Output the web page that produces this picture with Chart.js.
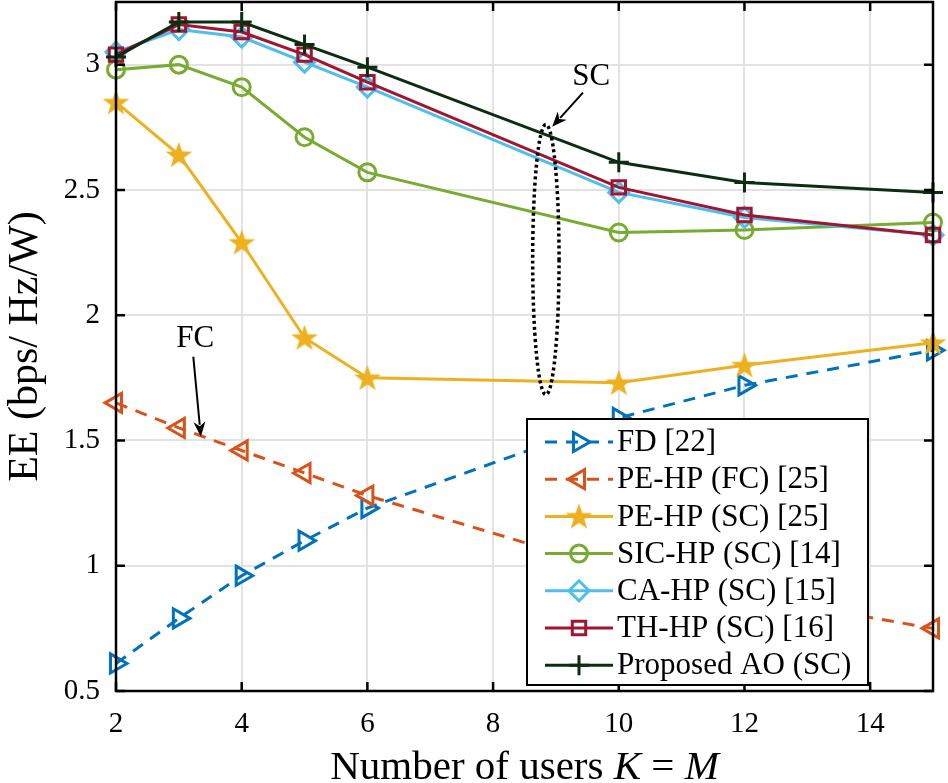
<!DOCTYPE html>
<html>
<head>
<meta charset="utf-8">
<script src="https://cdn.jsdelivr.net/npm/chart.js@4.4.1/dist/chart.umd.min.js"></script>
<style>
body { margin: 0; background: #fff; }
#wrap { width: 948px; height: 783px; }
</style>
</head>
<body>
<div id="wrap"><canvas id="eeChart" width="948" height="783"></canvas></div>
<script>
// number of users K = M
var users = [2, 3, 4, 5, 6, 10, 12, 15];

// EE values (bps/Hz/W)
var fdEE       = [0.61, 0.79, 0.96, 1.10, 1.23, 1.59, 1.72, 1.86];
var peFcEE     = [1.65, 1.55, 1.46, 1.37, 1.28, 0.98, 0.88, 0.75];
var peScEE     = [2.85, 2.64, 2.29, 1.91, 1.75, 1.73, 1.80, 1.89];
var sicEE      = [2.98, 3.00, 2.91, 2.71, 2.57, 2.33, 2.34, 2.37];
var caEE       = [3.05, 3.14, 3.11, 3.01, 2.91, 2.49, 2.39, 2.32];
var thEE       = [3.04, 3.16, 3.13, 3.04, 2.93, 2.51, 2.40, 2.32];
var proposedEE = [3.03, 3.17, 3.17, 3.08, 2.99, 2.61, 2.53, 2.49];

var seriesNames = ['FD [22]', 'PE-HP (FC) [25]', 'PE-HP (SC) [25]', 'SIC-HP (SC) [14]',
    'CA-HP (SC) [15]', 'TH-HP (SC) [16]', 'Proposed AO (SC)'];

var xTicks = [2, 4, 6, 8, 10, 12, 14];
var yTicks = [0.5, 1, 1.5, 2, 2.5, 3];

var serif = '"Liberation Serif", "Times New Roman", serif';

function pts(vals) {
    return users.map(function (u, i) { return { x: u, y: vals[i] }; });
}

// filled pentagram, chart.js has no such marker
function makeStar(color, r) {
    var c = document.createElement('canvas');
    var s = Math.ceil(r * 2 + 4);
    c.width = s; c.height = s;
    var g = c.getContext('2d');
    g.fillStyle = color;
    g.beginPath();
    for (var k = 0; k < 10; k++) {
        var rr = k % 2 ? r * 0.4 : r;
        var a = -Math.PI / 2 + k * Math.PI / 5;
        g.lineTo(s / 2 + rr * Math.cos(a), s / 2 + 1 + rr * Math.sin(a));
    }
    g.closePath();
    g.fill();
    return c;
}

function series(i, vals, color, style, radius, rot, dashed) {
    return {
        label: seriesNames[i],
        data: pts(vals),
        borderColor: color,
        backgroundColor: color,
        borderWidth: 3,
        borderDash: dashed ? [12, 9] : [],
        pointStyle: style,
        pointRotation: rot,
        pointRadius: radius,
        pointBorderWidth: 3,
        pointBorderColor: color,
        pointBackgroundColor: 'rgba(0,0,0,0)',
        tension: 0,
        clip: false,
        order: 6 - i
    };
}

var datasets = [
    series(0, fdEE, '#0072BD', 'triangle', 11, 90, true),
    series(1, peFcEE, '#D95319', 'triangle', 11, -90, true),
    series(2, peScEE, '#EDB120', makeStar('#EDB120', 14), 14, 0, false),
    series(3, sicEE, '#77AC30', 'circle', 8.5, 0, false),
    series(4, caEE, '#4DBEEE', 'rectRot', 10, 0, false),
    series(5, thEE, '#A2142F', 'rect', 9.5, 0, false),
    series(6, proposedEE, '#0b2e10', 'cross', 10, 0, false)
];

function drawArrow(ctx, x1, y1, x2, y2) {
    var ang = Math.atan2(y2 - y1, x2 - x1), hl = 15, hw = 6;
    ctx.beginPath();
    ctx.moveTo(x1, y1);
    ctx.lineTo(x2 - Math.cos(ang) * hl * 0.8, y2 - Math.sin(ang) * hl * 0.8);
    ctx.stroke();
    ctx.beginPath();
    ctx.moveTo(x2, y2);
    ctx.lineTo(x2 - Math.cos(ang) * hl + Math.sin(ang) * hw, y2 - Math.sin(ang) * hl - Math.cos(ang) * hw);
    ctx.lineTo(x2 - Math.cos(ang) * hl * 0.7, y2 - Math.sin(ang) * hl * 0.7);
    ctx.lineTo(x2 - Math.cos(ang) * hl - Math.sin(ang) * hw, y2 - Math.sin(ang) * hl + Math.cos(ang) * hw);
    ctx.closePath();
    ctx.fill();
}

var decor = {
    id: 'decor',
    afterDraw: function (chart) {
        var ctx = chart.ctx, a = chart.chartArea;
        var xs = chart.scales.x, ys = chart.scales.y;
        var tl = 9;
        ctx.save();

        // axes box + inward ticks
        ctx.strokeStyle = '#000';
        ctx.lineWidth = 2.5;
        ctx.strokeRect(a.left, a.top, a.right - a.left, a.bottom - a.top);
        ctx.beginPath();
        xTicks.forEach(function (v) {
            var p = xs.getPixelForValue(v);
            ctx.moveTo(p, a.bottom); ctx.lineTo(p, a.bottom - tl);
            ctx.moveTo(p, a.top); ctx.lineTo(p, a.top + tl);
        });
        yTicks.forEach(function (v) {
            var p = ys.getPixelForValue(v);
            ctx.moveTo(a.left, p); ctx.lineTo(a.left + tl, p);
            ctx.moveTo(a.right, p); ctx.lineTo(a.right - tl, p);
        });
        ctx.stroke();

        // SC ellipse and arrows
        ctx.fillStyle = '#000';
        ctx.strokeStyle = '#000';
        ctx.lineWidth = 3.5;
        ctx.setLineDash([3, 3]);
        ctx.beginPath();
        ctx.ellipse(xs.getPixelForValue(8.84), ys.getPixelForValue(2.222),
            xs.getPixelForValue(8.84 + 0.21) - xs.getPixelForValue(8.84),
            ys.getPixelForValue(2.222) - ys.getPixelForValue(2.222 + 0.539), 0, 0, Math.PI * 2);
        ctx.stroke();
        ctx.setLineDash([]);
        ctx.lineWidth = 2;
        drawArrow(ctx, xs.getPixelForValue(9.43), ys.getPixelForValue(2.888),
            xs.getPixelForValue(8.94), ys.getPixelForValue(2.752));
        drawArrow(ctx, xs.getPixelForValue(3.23), ys.getPixelForValue(1.834),
            xs.getPixelForValue(3.35), ys.getPixelForValue(1.515));
        ctx.font = '31px ' + serif;
        ctx.textAlign = 'center';
        ctx.textBaseline = 'middle';
        ctx.fillText('SC', xs.getPixelForValue(9.56), ys.getPixelForValue(2.952));
        ctx.fillText('FC', xs.getPixelForValue(3.26), ys.getPixelForValue(1.906));

        // legend box
        var lx = 527, ly = 419, lw = 341, lh = 266, row = 37.2;
        ctx.fillStyle = '#fff';
        ctx.fillRect(lx, ly, lw, lh);
        ctx.lineWidth = 2;
        ctx.strokeStyle = '#000';
        ctx.strokeRect(lx, ly, lw, lh);
        ctx.font = '31px ' + serif;
        ctx.textAlign = 'left';
        ctx.textBaseline = 'middle';
        chart.data.datasets.forEach(function (ds, i) {
            var cy = ly + 23 + i * row;
            ctx.strokeStyle = ds.borderColor;
            ctx.lineWidth = 3;
            ctx.setLineDash(ds.borderDash);
            ctx.beginPath();
            ctx.moveTo(545, cy); ctx.lineTo(613, cy);
            ctx.stroke();
            ctx.setLineDash([]);
            ctx.fillStyle = 'rgba(0,0,0,0)';
            Chart.helpers.drawPoint(ctx, {
                pointStyle: ds.pointStyle, rotation: ds.pointRotation,
                radius: ds.pointRadius, borderWidth: 3
            }, 579, cy);
            ctx.fillStyle = '#000';
            ctx.fillText(ds.label, 617, cy + 1);
        });

        // axis titles
        ctx.fillStyle = '#000';
        ctx.textBaseline = 'alphabetic';
        var parts = [['Number of users ', false], ['K', true], [' = ', false], ['M', true]];
        var total = 0;
        parts.forEach(function (p) {
            ctx.font = (p[1] ? 'italic ' : '') + '41px ' + serif;
            p.push(ctx.measureText(p[0]).width);
            total += p[2];
        });
        var x0 = (a.left + a.right) / 2 - total / 2;
        ctx.textAlign = 'left';
        parts.forEach(function (p) {
            ctx.font = (p[1] ? 'italic ' : '') + '41px ' + serif;
            ctx.fillText(p[0], x0, 779);
            x0 += p[2];
        });

        ctx.translate(37, (a.top + a.bottom) / 2);
        ctx.rotate(-Math.PI / 2);
        ctx.font = '42px ' + serif;
        ctx.textAlign = 'center';
        ctx.fillText('EE (bps/ Hz/W)', 0, 0);
        ctx.restore();
    }
};

var ctx = document.getElementById('eeChart').getContext('2d');
var chart = new Chart(ctx, {
    type: 'line',
    data: { datasets: datasets },
    options: {
        responsive: false,
        animation: false,
        events: [],
        layout: { autoPadding: false, padding: { left: 0, right: 15, top: 2, bottom: 0 } },
        plugins: { legend: { display: false }, tooltip: { enabled: false } },
        scales: {
            x: {
                type: 'linear', min: 2, max: 15,
                afterBuildTicks: function (s) { s.ticks = xTicks.map(function (v) { return { value: v }; }); },
                afterFit: function (s) { s.height = 92; s.paddingLeft = 0; s.paddingRight = 0; },
                grid: { color: '#e2e2e2', lineWidth: 2, drawTicks: false },
                border: { display: false },
                ticks: {
                    color: '#000', padding: 16, maxRotation: 0,
                    font: { family: serif, size: 29 },
                    callback: function (v) { return String(v); }
                }
            },
            y: {
                type: 'linear', min: 0.5, max: 3.25,
                afterBuildTicks: function (s) { s.ticks = yTicks.map(function (v) { return { value: v }; }); },
                afterFit: function (s) { s.width = 116; s.paddingTop = 0; s.paddingBottom = 0; },
                grid: { color: '#e2e2e2', lineWidth: 2, drawTicks: false },
                border: { display: false },
                ticks: {
                    color: '#000', padding: 16,
                    font: { family: serif, size: 29 },
                    callback: function (v) { return String(v); }
                }
            }
        }
    },
    plugins: [decor]
});
</script>
</body>
</html>
